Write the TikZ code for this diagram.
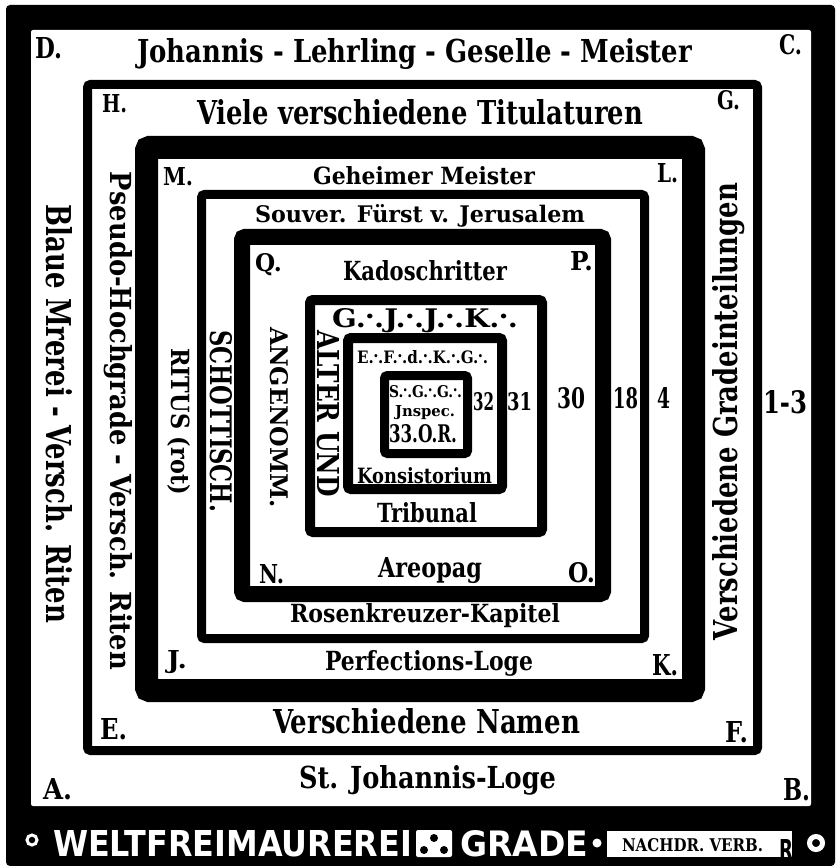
\documentclass[tikz,border=0pt]{standalone}
\usepackage{fontspec}
\usepackage{graphicx}
\setmainfont{DejaVu Serif}
\newfontfamily\bansf{DejaVu Sans}
\newcommand\fitt[3]{\resizebox{#1pt}{#2pt}{\bfseries #3}}
\newcommand\tdt{.\kern-.03em\raisebox{.34em}{.}\kern-.03em.}
\begin{document}
\begin{tikzpicture}[x=1pt,y=-1pt,
  t/.style={inner sep=0pt,outer sep=0pt,anchor=base west},
  vt/.style={t,rotate=-90},
  vtu/.style={t,rotate=90},
  frame/.style={draw=black,rounded corners=3pt}]
\useasboundingbox (0,0) rectangle (835,866);
\fill[white] (0,0) rectangle (835,866);
% outer frame and banner band
\fill[black,rounded corners=4pt] (6,5) rectangle (835,866);
\fill[white,rounded corners=2pt] (31,30) rectangle (811,806);
% nested frames
\draw[frame,line width=9pt]  (87.5,84.5) rectangle (757.5,750.5);
\draw[frame,line width=23pt] (146.5,147.5) rectangle (693.5,690.5);
\draw[frame,line width=9pt]  (201.5,194.5) rectangle (644.5,638.5);
\draw[frame,line width=16pt] (242,237) rectangle (603,594);
\draw[frame,line width=10pt] (310,300) rectangle (542,532);
\draw[frame,line width=10pt] (348,338) rectangle (502,489);
\draw[frame,line width=9pt]  (384.5,375.5) rectangle (467.5,453.5);
% corner letters
\node[t] (lD) at (35,59)  {\fitt{27}{21}{D.}};
\node[t] (lC) at (779,55) {\fitt{23}{20}{C.}};
\node[t] (lH) at (102,113) {\fitt{25}{18}{H.}};
\node[t] (lG) at (717,110) {\fitt{23}{19}{G.}};
\node[t] (lM) at (163,186) {\fitt{30}{18}{M.}};
\node[t] (lL) at (657,183) {\fitt{21}{19}{L.}};
\node[t] (lQ) at (255,272) {\fitt{27}{18}{Q.}};
\node[t] (lP) at (570,270) {\fitt{23}{19}{P.}};
\node[t] (lN) at (259,583) {\fitt{25}{19}{N.}};
\node[t] (lO) at (568,582) {\fitt{27}{20}{O.}};
\node[t] (lJ) at (167,668) {\fitt{20}{18}{J.}};
\node[t] (lK) at (652,675) {\fitt{26}{21}{K.}};
\node[t] (lE) at (100,739) {\fitt{27}{21}{E.}};
\node[t] (lF) at (725,742) {\fitt{23}{21}{F.}};
\node[t] (lA) at (43,799) {\fitt{29}{21}{A.}};
\node[t] (lB) at (783,800) {\fitt{27}{22}{B.}};
% horizontal texts
\node[t] (johannis) at (137,63)  {\fitt{555}{24}{Johannis - Lehrling - Geselle - Meister}};
\node[t] (viele)    at (197,125) {\fitt{446}{25}{Viele verschiedene Titulaturen}};
\node[t] (geheim)   at (313,185) {\fitt{222}{18}{Geheimer Meister}};
\node[t] (souver)   at (255,223) {\fitt{330}{18}{Souver. Fürst v. Jerusalem}};
\node[t] (kadosch)  at (343,280) {\fitt{164}{20}{Kadoschritter}};
\node[t] (gjjk)     at (332,327) {\fitt{186}{19}{G\tdt J\tdt J\tdt K\tdt}};
\node[t] (efdkg)    at (357,363) {\fitt{131}{13}{E\tdt F\tdt d\tdt K\tdt G\tdt}};
\node[t] (sgg)      at (389,397) {\fitt{73}{12}{S\tdt G\tdt G\tdt}};
\node[t] (jnspec)   at (395,416) {\fitt{60}{11}{Jnspec.}};
\node[t] (oor)      at (389,442) {\fitt{68}{18}{33.O.R.}};
\node[t] (n32)      at (473,410) {\fitt{21}{18}{32}};
\node[t] (n31)      at (507,410) {\fitt{25}{18}{31}};
\node[t] (n30)      at (557,408) {\fitt{28}{21}{30}};
\node[t] (n18)      at (613,408) {\fitt{25}{21}{18}};
\node[t] (n4)       at (657,408) {\fitt{13}{21}{4}};
\node[t] (n13)      at (763,413) {\fitt{44}{23}{1-3}};
\node[t] (konsist)  at (357,483) {\fitt{135}{16}{Konsistorium}};
\node[t] (tribunal) at (377,522) {\fitt{100}{20}{Tribunal}};
\node[t] (areopag)  at (378,577) {\fitt{104}{20}{Areopag}};
\node[t] (rosen)    at (290,622) {\fitt{270}{19}{Rosenkreuzer-Kapitel}};
\node[t] (perfect)  at (325,670) {\fitt{208}{20}{Perfections-Loge}};
\node[t] (namen)    at (273,733) {\fitt{307}{25}{Verschiedene Namen}};
\node[t] (stjoh)    at (299,788) {\fitt{257}{23}{St. Johannis-Loge}};
% vertical texts
\node[vt] (blaue)   at (46,205)  {\fitt{418}{26}{Blaue Mrerei - Versch. Riten}};
\node[vt] (pseudo)  at (110,172) {\fitt{498}{22}{Pseudo-Hochgrade - Versch. Riten}};
\node[vt] (ritus)   at (171,348) {\fitt{147}{19}{RITUS (rot)}};
\node[vt] (schott)  at (210,330) {\fitt{182}{22}{SCHOTTISCH.}};
\node[vt] (angen)   at (270,327) {\fitt{181}{18}{ANGENOMM.}};
\node[vt] (alter)   at (317,330) {\fitt{167}{22}{ALTER UND}};
\node[vtu] (gradein) at (737,640) {\fitt{457}{25}{Verschiedene Gradeinteilungen}};
% banner
\draw[white,line width=3pt] (32,840) circle[radius=5];
\node[t,text=white] (welt) at (53,856) {\resizebox{359pt}{26pt}{\bansf\bfseries WELTFREIMAUREREI}};
\fill[white,rounded corners=2pt] (416,830) rectangle (452,857);
\fill[black] (434,838) circle[radius=4];
\fill[black] (424,850) circle[radius=4];
\fill[black] (444,850) circle[radius=4];
\node[t,text=white] (grade) at (460,856) {\resizebox{128pt}{26pt}{\bansf\bfseries GRADE}};
\fill[white] (597,843) circle[radius=4.5];
\fill[white] (607,831) rectangle (792,857);
\node[t] (nachdr) at (622,851) {\fitt{141}{13}{NACHDR. VERB.}};
\node[t] (logo) at (779,860) {\resizebox{14pt}{21pt}{\bansf\bfseries R}};
\draw[white,line width=5pt] (816,843) circle[radius=6.5];
\end{tikzpicture}
\end{document}
